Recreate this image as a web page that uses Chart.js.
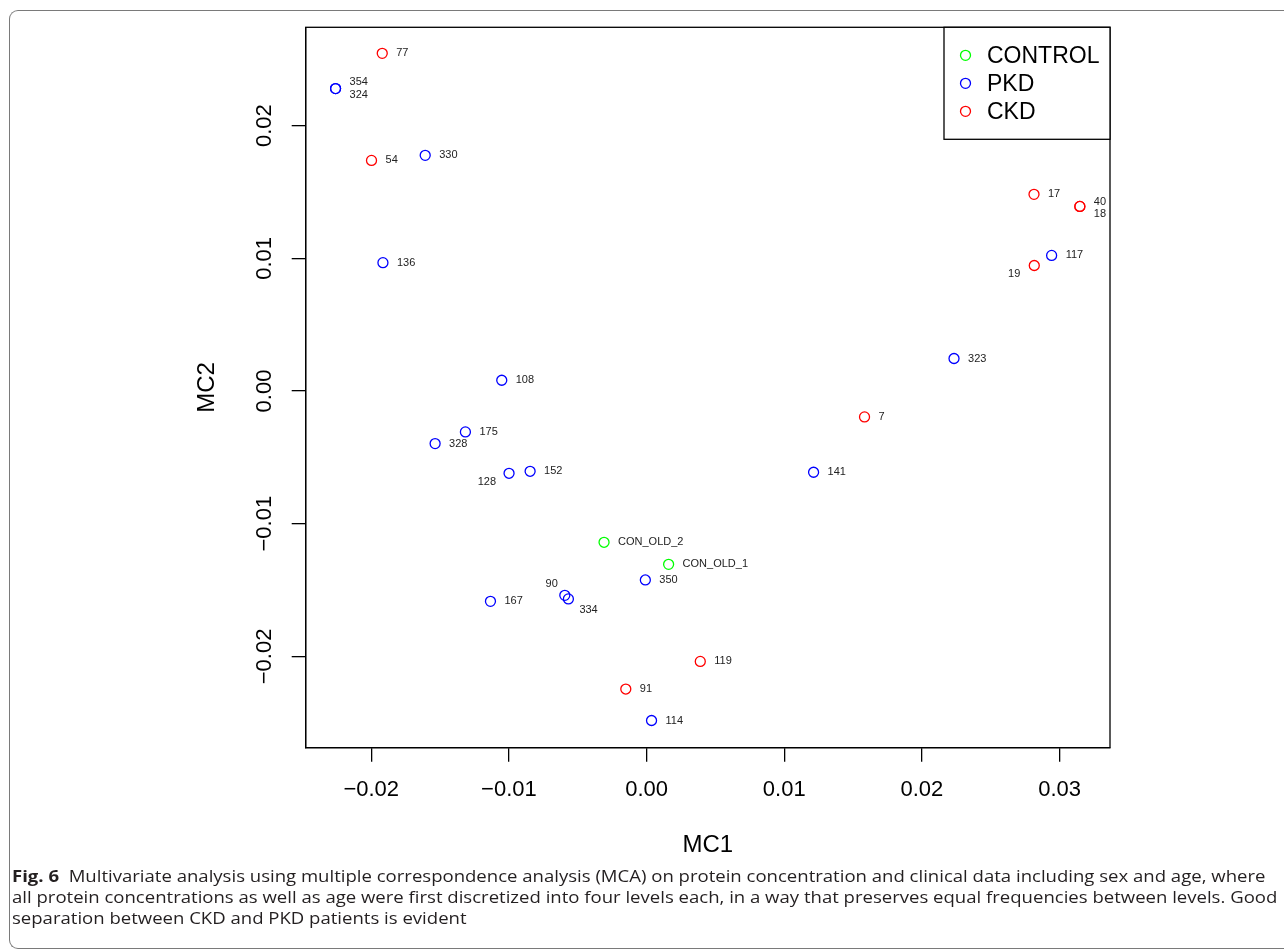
<!DOCTYPE html>
<html>
<head>
<meta charset="utf-8">
<script src="https://cdn.jsdelivr.net/npm/chart.js@4.4.1/dist/chart.umd.min.js"></script>
<style>
  html, body { margin: 0; padding: 0; background: #fff; }
  body { position: relative; width: 1284px; height: 951px; overflow: hidden; }
  #frame {
    position: absolute; left: 9px; top: 10px; width: 1300px; height: 937px;
    border-left: 1.4px solid #7a7a7a; border-top: 1.4px solid #7a7a7a; border-bottom: 1.4px solid #7a7a7a;
    border-radius: 9px 0 0 9px;
  }
  #chart { position: absolute; left: 0; top: 0; }
  #caption {
    position: absolute; left: 12px; top: 866px; white-space: nowrap;
    font-family: "Open Sans", sans-serif; font-size: 16px; line-height: 21px; color: #231f20;
    transform-origin: 0 0; transform: scaleX(1.159);
  }
  #caption b { font-weight: 700; }
</style>
</head>
<body>
<div id="frame"></div>
<canvas id="chart" width="1284" height="870"></canvas>
<div id="caption"><b>Fig. 6</b>&nbsp; Multivariate analysis using multiple correspondence analysis (MCA) on protein concentration and clinical data including sex and age, where<br>all protein concentrations as well as age were first discretized into four levels each, in a way that preserves equal frequencies between levels. Good<br>separation between CKD and PKD patients is evident</div>
<script>
// MCA coordinates
const controlIds = ['CON_OLD_2', 'CON_OLD_1'];
const controlMC1 = [-0.00309, 0.00160];
const controlMC2 = [-0.01140, -0.01306];

const pkdIds = ['354', '324', '330', '136', '108', '175', '328', '128', '152', '350', '90', '334', '167', '323', '141', '117', '114'];
const pkdMC1 = [-0.02259, -0.02259, -0.01608, -0.01915, -0.01052, -0.01316, -0.01536, -0.00999, -0.00846, -0.00009, -0.00594, -0.00568, -0.01134, 0.02233, 0.01213, 0.02942, 0.00036];
const pkdMC2 = [0.02279, 0.02279, 0.01776, 0.00967, 0.00081, -0.00308, -0.00396, -0.00620, -0.00605, -0.01424, -0.01540, -0.01567, -0.01585, 0.00245, -0.00612, 0.01022, -0.02483];

const ckdIds = ['77', '54', '17', '40', '18', '19', '7', '119', '91'];
const ckdMC1 = [-0.01920, -0.01998, 0.02814, 0.03147, 0.03147, 0.02816, 0.01583, 0.00390, -0.00151];
const ckdMC2 = [0.02545, 0.01738, 0.01482, 0.01391, 0.01391, 0.00946, -0.00195, -0.02038, -0.02246];

const xTicks = [-0.02, -0.01, 0.00, 0.01, 0.02, 0.03];
const yTicks = [-0.02, -0.01, 0.00, 0.01, 0.02];

// label placement (pixels from point), default is to the right
const labelShift = {
  '354': [14, -7, 'left'], '324': [14, 6, 'left'],
  '40': [14, -4, 'left'], '18': [14, 8, 'left'],
  '19': [-14, 8, 'right'], '128': [-13, 9, 'right'],
  '90': [-7, -11, 'right'], '334': [11, 11, 'left']
};

function pts(xs, ys) { return xs.map((x, i) => ({ x: x, y: ys[i] })); }
function fmt(v) { return v.toFixed(2).replace('-', '\u2212'); }

const groups = [
  { label: 'CONTROL', ids: controlIds, data: pts(controlMC1, controlMC2), color: '#00ff00' },
  { label: 'PKD', ids: pkdIds, data: pts(pkdMC1, pkdMC2), color: '#0000ff' },
  { label: 'CKD', ids: ckdIds, data: pts(ckdMC1, ckdMC2), color: '#ff0000' }
];

const font = '"Liberation Sans", Arial, Helvetica, sans-serif';

const boxAndLabels = {
  id: 'boxAndLabels',
  afterDatasetsDraw(chart) {
    const { ctx, chartArea: a } = chart;
    ctx.save();
    ctx.strokeStyle = '#000';
    ctx.lineWidth = 1.3;
    ctx.strokeRect(a.left, a.top, a.right - a.left, a.bottom - a.top);

    ctx.font = '11px ' + font;
    ctx.fillStyle = '#222';
    ctx.textBaseline = 'middle';
    chart.data.datasets.forEach((ds, i) => {
      chart.getDatasetMeta(i).data.forEach((el, j) => {
        const id = ds.ids[j];
        const s = labelShift[id] || [14, 0, 'left'];
        ctx.textAlign = s[2];
        ctx.fillText(id, el.x + s[0], el.y + s[1]);
      });
    });

    // legend box, top right corner of the plot
    const lw = 166, lh = 112;
    const lx = a.right - lw, ly = a.top;
    ctx.fillStyle = '#fff';
    ctx.fillRect(lx, ly, lw, lh);
    ctx.strokeRect(lx, ly, lw, lh);
    ctx.font = '23px ' + font;
    ctx.textAlign = 'left';
    chart.data.datasets.forEach((ds, i) => {
      const cy = ly + 28 + i * 28;
      ctx.beginPath();
      ctx.arc(lx + 21.5, cy, 5, 0, Math.PI * 2);
      ctx.strokeStyle = ds.borderColor;
      ctx.stroke();
      ctx.fillStyle = '#000';
      ctx.fillText(ds.label, lx + 43, cy + 1);
    });
    ctx.restore();
  }
};

new Chart(document.getElementById('chart'), {
  type: 'scatter',
  data: {
    datasets: groups.map(g => ({
      label: g.label,
      ids: g.ids,
      data: g.data,
      borderColor: g.color,
      backgroundColor: 'rgba(0,0,0,0)',
      pointRadius: 5,
      pointHoverRadius: 5,
      borderWidth: 1.3,
      pointStyle: 'circle'
    }))
  },
  options: {
    responsive: false,
    animation: false,
    devicePixelRatio: 1,
    layout: { padding: { left: 0, top: 27.3, right: 174, bottom: 0 } },
    plugins: { legend: { display: false }, tooltip: { enabled: false } },
    scales: {
      x: {
        type: 'linear',
        min: -0.02476, max: 0.03366,
        afterFit: s => { s.height = 122.3; },
        afterBuildTicks: s => { s.ticks = xTicks.map(v => ({ value: v })); },
        grid: { drawOnChartArea: false, tickLength: 14, color: '#000', lineWidth: 1.3 },
        border: { display: true, color: '#000', width: 1.3 },
        ticks: { padding: 15, color: '#000', font: { family: font, size: 22 }, maxRotation: 0, callback: v => fmt(v) },
        title: { display: true, text: 'MC1', color: '#000', font: { family: font, size: 24 }, padding: { top: 0, bottom: 10.6 } }
      },
      y: {
        type: 'linear',
        min: -0.02688, max: 0.02741,
        afterFit: s => { s.width = 305.7; },
        afterBuildTicks: s => { s.ticks = yTicks.map(v => ({ value: v })); },
        grid: { drawOnChartArea: false, tickLength: 14, color: '#000', lineWidth: 1.3 },
        border: { display: true, color: '#000', width: 1.3 },
        ticks: { padding: -1.5, color: '#000', crossAlign: 'center', minRotation: 90, maxRotation: 90, font: { family: font, size: 22 }, callback: v => fmt(v) },
        title: { display: true, text: 'MC2', color: '#000', font: { family: font, size: 24 }, padding: { top: 192.6, bottom: 0 } }
      }
    }
  },
  plugins: [boxAndLabels]
});
</script>
</body>
</html>
